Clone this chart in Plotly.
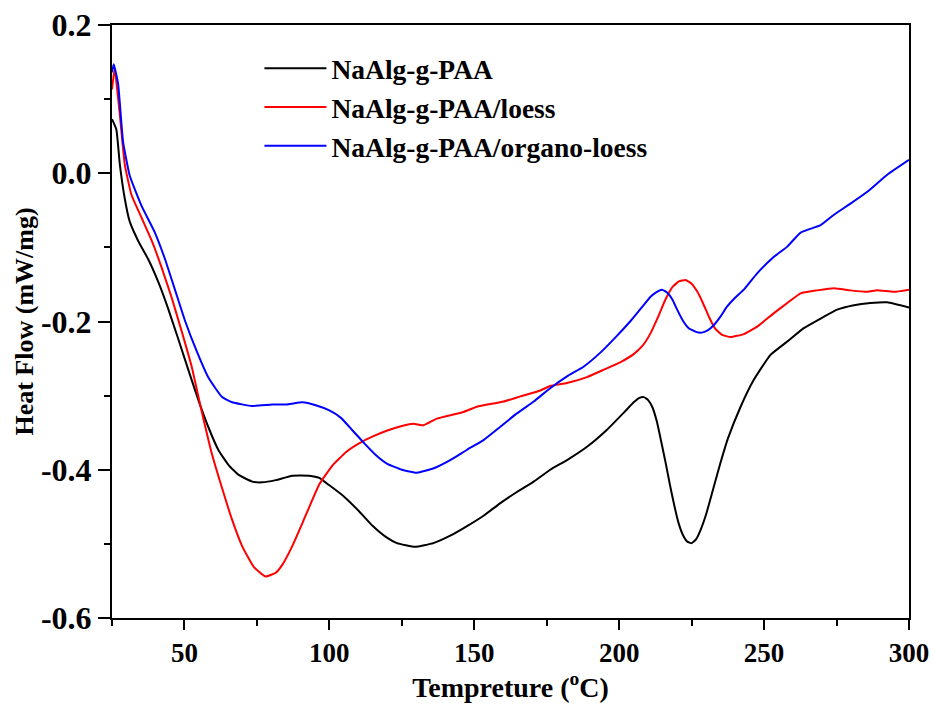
import plotly.graph_objects as go

# ---- data ----
black_x = [25.0, 26.5, 27.7, 29.4, 31.1, 34.0, 37.5, 41.0, 44.4, 47.9, 51.4, 54.9, 58.3, 61.8, 65.3, 68.7,
           73.4, 76.8, 81.5, 87.2, 93.0, 96.5, 100.0, 105.0, 110.0, 115.0, 119.6, 123.3, 129.6, 135.9,
           141.7, 147.5, 153.2, 159.0, 164.7, 170.5, 176.2, 182.0, 188.9, 195.8, 201.6, 205.0, 207.0,
           208.5, 210.0, 211.5, 213.0, 214.5, 216.0, 217.5, 219.0, 220.5, 222.0, 223.5, 225.0, 226.5,
           228.0, 230.0, 232.5, 235.0, 237.5, 241.9, 246.4, 252.2, 258.0,
           263.7, 269.5, 275.2, 281.0, 286.7, 292.5, 300.0]
black_y = [0.073, 0.059, 0.012, -0.034, -0.065, -0.091, -0.116, -0.147, -0.183, -0.224, -0.266, -0.307,
           -0.343, -0.374, -0.394, -0.407, -0.416, -0.417, -0.414, -0.408, -0.408, -0.411, -0.421, -0.436,
           -0.455, -0.476, -0.491, -0.499, -0.504, -0.499, -0.489, -0.476, -0.462, -0.445, -0.430, -0.416,
           -0.400, -0.387, -0.369, -0.346, -0.323, -0.309, -0.303,
           -0.302, -0.306, -0.316, -0.335, -0.362, -0.390, -0.420, -0.448, -0.472, -0.488, -0.497, -0.499,
           -0.494, -0.482, -0.460, -0.425, -0.390, -0.358, -0.315, -0.279, -0.245, -0.227,
           -0.209, -0.196, -0.184, -0.178, -0.175, -0.174, -0.181]

red_x = [25.0, 25.9, 27.7, 29.4, 31.7, 35.2, 38.7, 42.1, 45.6, 49.1, 52.5, 56.0, 59.5, 63.0, 66.4, 69.9,
         73.9, 78.0, 81.5, 83.8, 87.2, 91.9, 96.5, 101.1, 105.8, 110.4, 115.0, 120.0, 125.0, 129.0,
         132.5, 137.1, 146.3, 150.9, 160.1, 165.9, 172.8, 176.2, 182.0, 188.9, 194.7, 200.8, 205.0,
         208.0, 210.8, 213.5, 216.0, 218.5, 220.6, 222.9, 225.0, 227.0, 229.0, 231.0, 233.0, 235.5,
         238.4, 243.0, 247.6, 253.3, 258.0,
         262.6, 268.3, 274.1, 279.8, 285.6, 289.0, 294.8, 300.0]
red_y = [0.113, 0.141, 0.079, 0.012, -0.029, -0.060, -0.091, -0.127, -0.168, -0.214, -0.261, -0.322,
         -0.379, -0.425, -0.467, -0.503, -0.531, -0.544, -0.539, -0.528, -0.503, -0.461, -0.420, -0.394,
         -0.376, -0.364, -0.355, -0.347, -0.341, -0.338, -0.340, -0.331, -0.322, -0.315, -0.308, -0.301,
         -0.293, -0.287, -0.283, -0.275, -0.265, -0.254, -0.244,
         -0.233, -0.216, -0.193, -0.170, -0.153, -0.146, -0.144, -0.149, -0.160, -0.176, -0.194, -0.209,
         -0.218, -0.221, -0.217, -0.207, -0.189, -0.175,
         -0.162, -0.158, -0.155, -0.158, -0.160, -0.158, -0.160, -0.157]

blue_x = [25.0, 25.6, 27.1, 28.8, 31.1, 35.2, 39.8, 43.3, 46.8, 50.2, 53.7, 58.3, 63.0, 66.4, 73.4, 80.3,
          85.0, 90.7, 95.3, 100.0, 104.0, 108.0, 112.0, 116.0, 120.0, 125.0, 130.2, 136.0, 141.7, 147.5,
          153.2, 159.0, 164.7, 170.5, 176.2, 182.0, 187.7, 193.5, 199.3, 204.0, 208.0, 211.0, 213.0,
          214.8, 216.5, 218.3, 220.0, 222.0, 224.0, 226.5, 228.5, 230.5, 232.6, 235.0, 237.2, 240.0,
          243.0, 247.6, 253.3, 258.0, 262.6, 269.5, 274.1, 279.8, 285.6, 292.5, 300.0]
blue_y = [0.136, 0.147, 0.121, 0.043, -0.003, -0.044, -0.080, -0.116, -0.158, -0.199, -0.235, -0.276,
          -0.302, -0.309, -0.314, -0.312, -0.312, -0.309, -0.313, -0.320, -0.330, -0.347, -0.364, -0.380,
          -0.392, -0.400, -0.404, -0.398, -0.387, -0.373, -0.360, -0.342, -0.324, -0.308, -0.290, -0.274,
          -0.261, -0.242, -0.219, -0.199, -0.180, -0.166, -0.160,
          -0.157, -0.161, -0.170, -0.184, -0.199, -0.209, -0.214, -0.215, -0.212, -0.205, -0.193, -0.180,
          -0.168, -0.157, -0.135, -0.113, -0.099, -0.080, -0.070, -0.056, -0.041, -0.025, -0.002, 0.018]

series_names = ["NaAlg-g-PAA", "NaAlg-g-PAA/loess", "NaAlg-g-PAA/organo-loess"]
series_colors = ["#000000", "#ff0000", "#0000ff"]

x_tickvals = [50, 100, 150, 200, 250, 300]
x_ticktext = ["50", "100", "150", "200", "250", "300"]
y_tickvals = [0.2, 0.0, -0.2, -0.4, -0.6]
y_ticktext = ["0.2", "0.0", "-0.2", "-0.4", "-0.6"]

FONT = "Liberation Serif"

fig = go.Figure()
for xs, ys, name, col in zip([black_x, red_x, blue_x], [black_y, red_y, blue_y], series_names, series_colors):
    fig.add_trace(go.Scatter(x=xs, y=ys, mode="lines", name=name,
                             line=dict(color=col, width=2, shape="spline", smoothing=0.4)))

fig.update_layout(
    width=935, height=704,
    margin=dict(l=112, r=26, t=25, b=86, autoexpand=False),
    paper_bgcolor="white", plot_bgcolor="white",
    font=dict(family=FONT, color="black"),
    showlegend=True,
    legend=dict(x=0.185, y=0.968, xanchor="left", yanchor="top",
                bgcolor="rgba(0,0,0,0)", borderwidth=0,
                font=dict(family=FONT, size=27.5, weight="bold", color="black"),
                itemwidth=62, tracegroupgap=0),
    xaxis=dict(range=[25, 300], showgrid=False, zeroline=False, automargin=False,
               showline=True, linecolor="black", linewidth=2, mirror=True,
               ticks="outside", ticklen=10, tickwidth=2, tickcolor="black",
               tickvals=x_tickvals, ticktext=x_ticktext,
               tickfont=dict(family=FONT, size=27, weight="bold"),
               minor=dict(ticks="outside", ticklen=6, tickwidth=2, tickcolor="black",
                          tick0=25, dtick=25, showgrid=False),
               title=dict(text="Tempreture (<sup>o</sup>C)", standoff=0,
                          font=dict(family=FONT, size=28, weight="bold"))),
    yaxis=dict(range=[-0.6, 0.2], showgrid=False, zeroline=False, automargin=False,
               showline=True, linecolor="black", linewidth=2, mirror=True,
               ticks="outside", ticklen=12, tickwidth=2, tickcolor="black",
               tickvals=y_tickvals, ticktext=y_ticktext,
               tickfont=dict(family=FONT, size=32, weight="bold"),
               minor=dict(ticks="outside", ticklen=6, tickwidth=2, tickcolor="black",
                          tick0=0, dtick=0.1, showgrid=False),
               title=dict(text="Heat Flow (mW/mg)", standoff=0,
                          font=dict(family=FONT, size=26, weight="bold"))),
)

fig.write_html("out.html")
